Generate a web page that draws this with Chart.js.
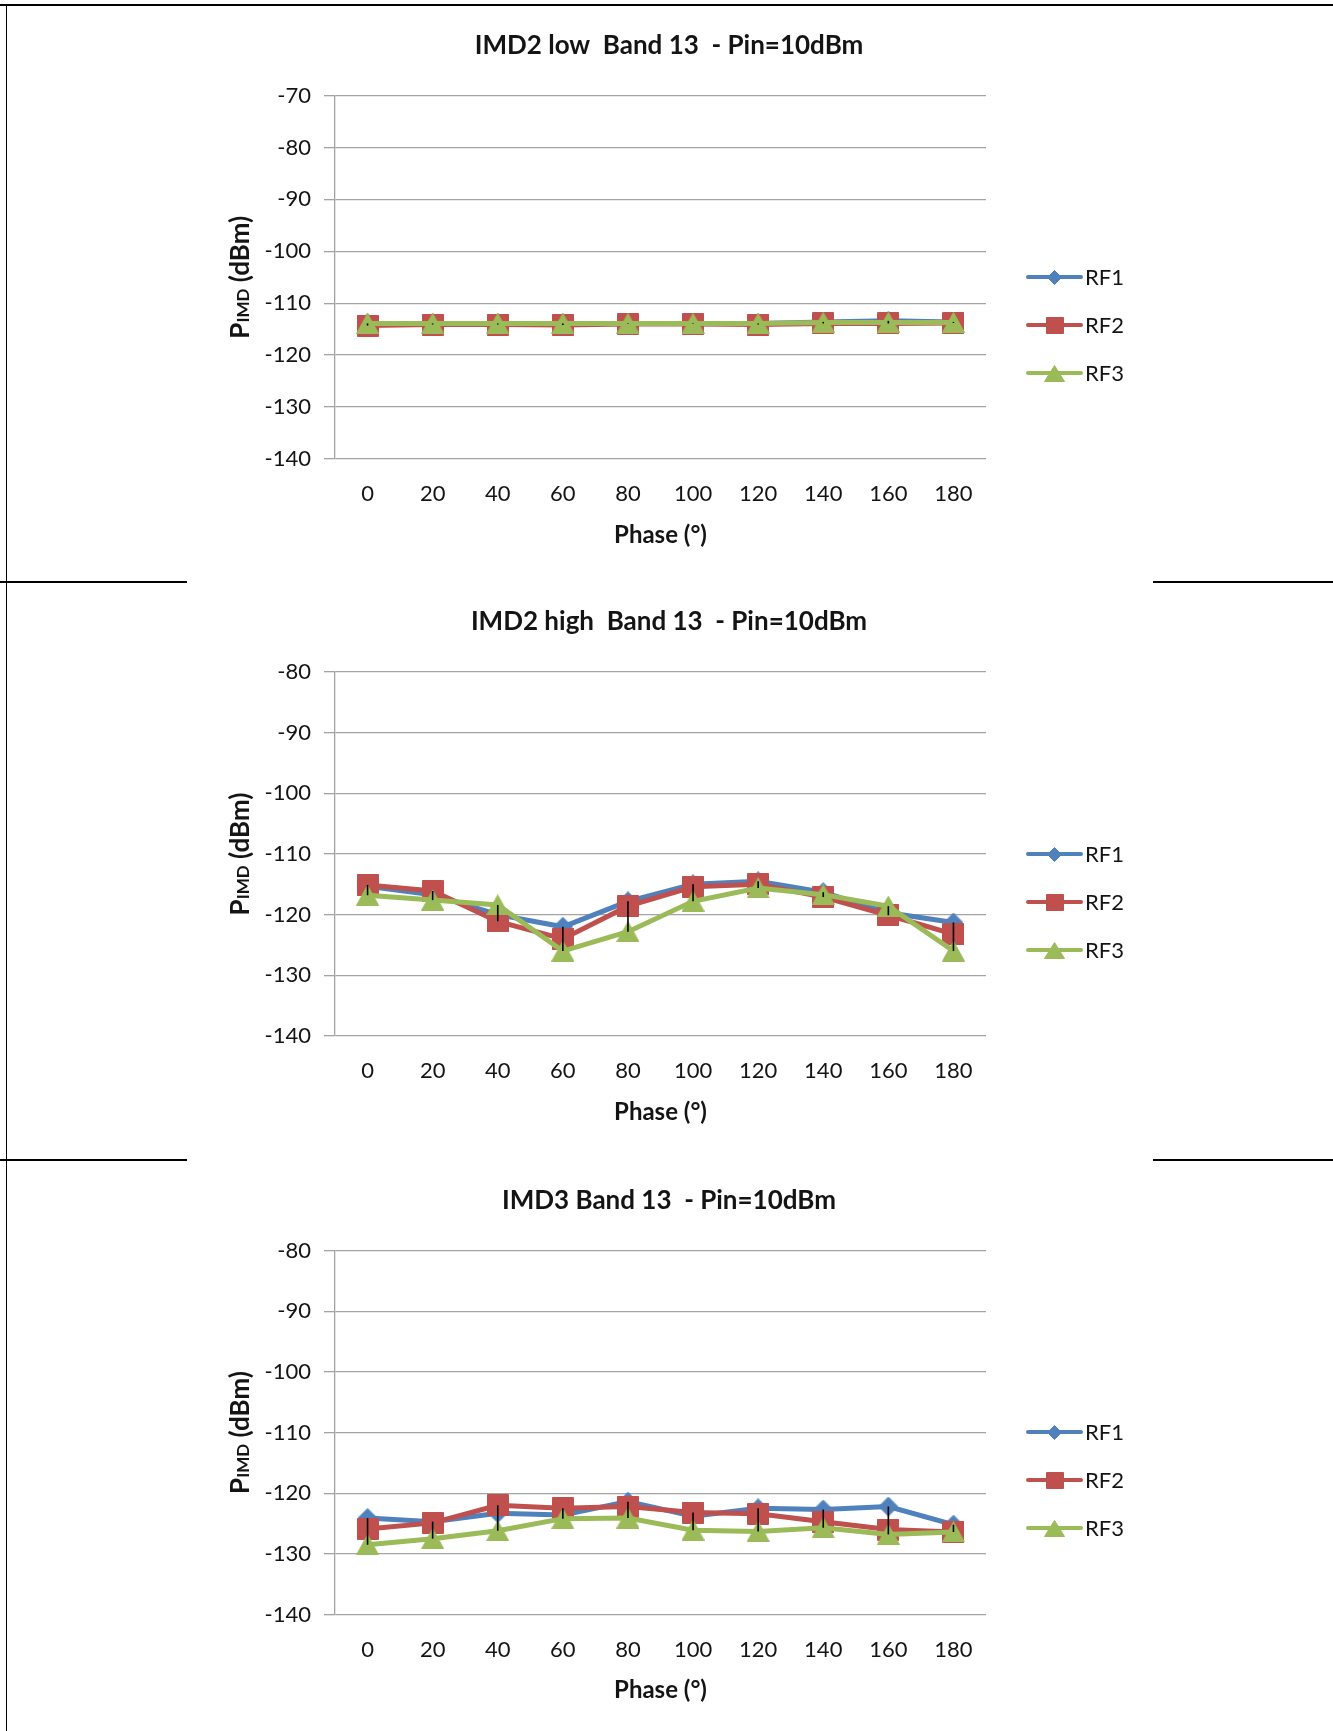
<!DOCTYPE html>
<html>
<head>
<meta charset="utf-8">
<title>Band 13 IMD vs phase</title>
<script src="https://cdn.jsdelivr.net/npm/chart.js@4.4.1/dist/chart.umd.min.js"></script>
<style>
  html, body { margin: 0; padding: 0; background: #ffffff; }
  #page { position: relative; width: 1333px; height: 1731px; overflow: hidden; background: #ffffff; }
  #page canvas { position: absolute; left: 0; }
  .rule { position: absolute; background: #000000; }
</style>
</head>
<body>
<div id="page">
  <div class="rule" style="left:0; top:4px; width:1333px; height:2px;"></div>
  <div class="rule" style="left:6px; top:4px; width:1px; height:1727px;"></div>
  <div class="rule" style="left:0; top:581px; width:187px; height:2px;"></div>
  <div class="rule" style="left:1153px; top:581px; width:180px; height:2px;"></div>
  <div class="rule" style="left:0; top:1159px; width:187px; height:2px;"></div>
  <div class="rule" style="left:1153px; top:1159px; width:180px; height:2px;"></div>
  <canvas id="imd2low" width="1333" height="582" style="top:0px;"></canvas>
  <canvas id="imd2high" width="1333" height="578" style="top:582px;"></canvas>
  <canvas id="imd3" width="1333" height="571" style="top:1160px;"></canvas>
</div>
<script>
// ---- data ----
const phaseLabels = ['0', '20', '40', '60', '80', '100', '120', '140', '160', '180'];
const seriesNames = ['RF1', 'RF2', 'RF3'];

// IMD2 low, Band 13, Pin = 10 dBm (dBm)
const imd2LowRF1 = [-113.9, -113.9, -113.9, -113.9, -113.9, -113.9, -113.9, -113.6, -113.4, -113.6];
const imd2LowRF2 = [-114.3, -114.1, -114.1, -114.2, -114.0, -114.0, -114.1, -113.9, -113.9, -113.8];
const imd2LowRF3 = [-113.9, -113.9, -113.9, -113.9, -113.9, -113.9, -113.9, -113.7, -113.7, -113.7];

// IMD2 high, Band 13, Pin = 10 dBm (dBm)
const imd2HighRF1 = [-115.3, -116.7, -120.0, -122.0, -117.8, -115.0, -114.5, -116.3, -119.7, -121.3];
const imd2HighRF2 = [-115.1, -116.1, -121.1, -124.0, -118.6, -115.4, -115.0, -117.1, -120.1, -123.2];
const imd2HighRF3 = [-116.8, -117.6, -118.4, -126.0, -122.8, -117.8, -115.6, -116.7, -118.6, -126.0];

// IMD3, Band 13, Pin = 10 dBm (dBm)
const imd3RF1 = [-124.1, -124.7, -123.3, -123.6, -121.4, -123.8, -122.5, -122.7, -122.2, -125.2];
const imd3RF2 = [-125.9, -124.9, -122.0, -122.5, -122.2, -123.2, -123.4, -124.7, -126.0, -126.4];
const imd3RF3 = [-128.5, -127.5, -126.2, -124.2, -124.1, -126.1, -126.3, -125.7, -126.8, -126.4];

// y-axis ranges [min, max] and tick step
const imd2LowRange = [-140, -70];
const imd2HighRange = [-140, -80];
const imd3Range = [-140, -80];
const yTickStep = 10;

const chartTitles = [
  'IMD2 low  Band 13  - Pin=10dBm',
  'IMD2 high  Band 13  - Pin=10dBm',
  'IMD3 Band 13  - Pin=10dBm'
];
const xAxisTitle = 'Phase (°)';
const yAxisTitle = ['P', 'IMD', ' (dBm)'];

// ---- styling ----
const FONT = 'Lato, "Open Sans", "DejaVu Sans", sans-serif';
const TEXT = '#141414';
const GRID = '#a3a3a3';
const seriesColors = ['#4F81BD', '#C0504D', '#9BBB59'];
const markerShapes = ['diamond', 'square', 'triangle'];
const markerSizes = [[20, 20], [22, 22], [23, 21]];
const legendMarkerSizes = [[15, 15], [18, 17], [21, 17]];

Chart.defaults.font.family = FONT;
Chart.defaults.color = TEXT;

// marker bitmaps, centred on their bounding box
function makeMarker(shape, color, w, h) {
  const c = document.createElement('canvas');
  c.width = w; c.height = h;
  const g = c.getContext('2d');
  g.fillStyle = color;
  g.strokeStyle = color;
  g.lineWidth = 1;
  g.beginPath();
  if (shape === 'square') {
    g.rect(0.5, 0.5, w - 1, h - 1);
  } else if (shape === 'diamond') {
    g.moveTo(w / 2, 0.5); g.lineTo(w - 0.5, h / 2); g.lineTo(w / 2, h - 0.5); g.lineTo(0.5, h / 2); g.closePath();
  } else {
    g.moveTo(w / 2, 0.5); g.lineTo(w - 0.5, h - 0.5); g.lineTo(0.5, h - 0.5); g.closePath();
  }
  g.fill();
  g.stroke();
  return c;
}
const pointMarkers = seriesColors.map((col, i) => makeMarker(markerShapes[i], col, markerSizes[i][0], markerSizes[i][1]));
const legendMarkers = seriesColors.map((col, i) => makeMarker(markerShapes[i], col, legendMarkerSizes[i][0], legendMarkerSizes[i][1]));

// title, axis titles, legend and high-low lines for one panel
const panelDecor = {
  id: 'panelDecor',
  afterDatasetsDraw(chart) {
    const { ctx, scales } = chart;
    const sets = chart.data.datasets;
    ctx.save();
    ctx.strokeStyle = '#000000';
    ctx.lineWidth = 1.6;
    chart.data.labels.forEach((lab, i) => {
      const vals = sets.map(d => d.data[i]);
      const hi = Math.max(...vals);
      const lo = Math.min(...vals);
      const px = scales.x.getPixelForValue(i);
      ctx.beginPath();
      ctx.moveTo(px, scales.y.getPixelForValue(hi));
      ctx.lineTo(px, scales.y.getPixelForValue(lo));
      ctx.stroke();
    });
    ctx.restore();
  },
  afterDraw(chart, args, opts) {
    const { ctx, chartArea } = chart;
    const midY = (chartArea.top + chartArea.bottom) / 2;
    const midX = (chartArea.left + chartArea.right) / 2;
    ctx.save();
    ctx.fillStyle = TEXT;

    // chart title
    ctx.font = 'bold 26px ' + FONT;
    ctx.textAlign = 'center';
    ctx.textBaseline = 'middle';
    ctx.fillText(opts.title, 669, chartArea.top - 50);

    // x-axis title
    ctx.font = 'bold 24px ' + FONT;
    ctx.fillText(xAxisTitle, midX, chartArea.bottom + 76);

    // y-axis title: P with small IMD, then (dBm)
    const bigFont = 'bold 26px ' + FONT;
    const smallFont = 'bold 17px ' + FONT;
    ctx.textAlign = 'left';
    ctx.textBaseline = 'alphabetic';
    ctx.font = bigFont; const w0 = ctx.measureText(yAxisTitle[0]).width;
    ctx.font = smallFont; const w1 = ctx.measureText(yAxisTitle[1]).width;
    ctx.font = bigFont; const w2 = ctx.measureText(yAxisTitle[2]).width;
    const total = w0 + w1 + w2;
    ctx.translate(249, midY);
    ctx.rotate(-Math.PI / 2);
    let tx = -total / 2;
    ctx.font = bigFont; ctx.fillText(yAxisTitle[0], tx, 0); tx += w0;
    ctx.font = smallFont; ctx.fillText(yAxisTitle[1], tx, 0); tx += w1;
    ctx.font = bigFont; ctx.fillText(yAxisTitle[2], tx, 0);
    ctx.setTransform(1, 0, 0, 1, 0, 0);

    // legend
    ctx.font = '22px ' + FONT;
    ctx.textAlign = 'left';
    ctx.textBaseline = 'middle';
    chart.data.datasets.forEach((ds, i) => {
      const ly = Math.round(midY + 48 * i - 0.5);
      ctx.strokeStyle = seriesColors[i];
      ctx.lineWidth = 4;
      ctx.lineCap = 'round';
      ctx.beginPath();
      ctx.moveTo(1028, ly);
      ctx.lineTo(1081, ly);
      ctx.stroke();
      const m = legendMarkers[i];
      ctx.drawImage(m, Math.round(1054.5 - m.width / 2), Math.round(ly - m.height / 2));
      ctx.fillStyle = TEXT;
      ctx.fillText(ds.label, 1085, ly + 1);
    });
    ctx.restore();
  }
};

function buildDatasets(values) {
  return values.map((vals, i) => ({
    label: seriesNames[i],
    data: vals,
    borderColor: seriesColors[i],
    backgroundColor: seriesColors[i],
    borderWidth: 5,
    tension: 0,
    pointStyle: pointMarkers[i],
    pointRadius: 10,
    pointHoverRadius: 10,
    order: 2 - i
  }));
}

function makePanel(id, title, values, range, areaTop, areaBottom) {
  const canvas = document.getElementById(id);
  const xAxisHeight = 100;
  const yAxisWidth = 80;
  return new Chart(canvas, {
    type: 'line',
    data: { labels: phaseLabels, datasets: buildDatasets(values) },
    options: {
      responsive: false,
      animation: false,
      devicePixelRatio: 1,
      events: [],
      layout: {
        padding: {
          left: 335 - yAxisWidth,
          right: 1333 - 986,
          top: areaTop,
          bottom: canvas.height - areaBottom - xAxisHeight
        }
      },
      plugins: {
        legend: { display: false },
        title: { display: false },
        tooltip: { enabled: false },
        panelDecor: { title: title }
      },
      scales: {
        x: {
          type: 'category',
          offset: true,
          grid: { display: false, drawTicks: false },
          border: { display: false },
          ticks: { font: { size: 22 }, color: TEXT, padding: 22, maxRotation: 0, autoSkip: false },
          afterFit(scale) { scale.height = xAxisHeight; }
        },
        y: {
          min: range[0],
          max: range[1],
          grid: { color: GRID, lineWidth: 1.3, tickLength: 11, drawTicks: true },
          border: { display: true, color: GRID, width: 1.3 },
          ticks: { stepSize: yTickStep, font: { size: 22 }, color: TEXT, padding: 13 },
          afterFit(scale) { scale.width = yAxisWidth; }
        }
      }
    },
    plugins: [panelDecor]
  });
}

makePanel('imd2low', chartTitles[0], [imd2LowRF1, imd2LowRF2, imd2LowRF3], imd2LowRange, 95.5, 459);
makePanel('imd2high', chartTitles[1], [imd2HighRF1, imd2HighRF2, imd2HighRF3], imd2HighRange, 90, 454);
makePanel('imd3', chartTitles[2], [imd3RF1, imd3RF2, imd3RF3], imd3Range, 90.5, 454.5);
</script>
</body>
</html>
